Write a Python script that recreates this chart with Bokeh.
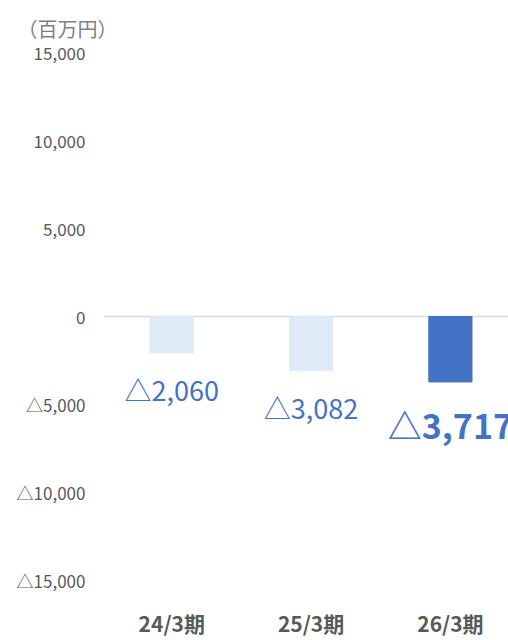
from bokeh.plotting import figure
from bokeh.models import Range1d, FixedTicker, ColumnDataSource, Title
from bokeh.core.properties import value
from bokeh.embed import file_html
from bokeh.resources import INLINE

categories = ["24/3期", "25/3期", "26/3期"]
values = [-2060, -3082, -3717]
y_ticks = [-15000, -10000, -5000, 0, 5000, 10000, 15000]
y_tick_labels = ["△15,000", "△10,000", "△5,000", "0", "5,000", "10,000", "15,000"]
unit_label = "（百万円）"

FONT = "Noto Sans CJK JP"
GRAY = "#595959"
LIGHT = "#DEEAF6"
DARK = "#4472C4"

xs = list(range(len(categories)))
labels = ["△{:,}".format(abs(v)) if v < 0 else "{:,}".format(v) for v in values]
colors = [LIGHT] * (len(values) - 1) + [DARK]

p = figure(frame_width=405, frame_height=528, output_backend="svg", toolbar_location=None,
           x_range=Range1d(-0.49, 2.417), y_range=Range1d(-15000, 15000),
           min_border_left=103, min_border_right=0, min_border_top=52,
           min_border_bottom=60)
p.outline_line_color = None
p.background_fill_color = "white"
p.border_fill_color = "white"

t = Title(text=unit_label, align="left", offset=-86, standoff=20,
          text_font=FONT, text_font_size="20px", text_color="#7f7f7f",
          text_font_style="normal")
p.title = t

src = ColumnDataSource(dict(x=xs, top=values, color=colors, label=labels))
p.vbar(x="x", top="top", bottom=0, width=0.31, color="color", source=src)

prev = ColumnDataSource(dict(x=xs[:-1], y=values[:-1], label=labels[:-1]))
last = ColumnDataSource(dict(x=xs[-1:], y=values[-1:], label=labels[-1:]))
p.text(x="x", y="y", text="label", source=prev, text_align="center",
       text_baseline="middle", y_offset=37, text_color=DARK,
       text_font=value(FONT), text_font_size="27px")
p.text(x="x", y="y", text="label", source=last, text_align="center",
       text_baseline="middle", y_offset=43, text_color=DARK,
       text_font=value(FONT), text_font_size="34px", text_font_style="bold")

p.xgrid.visible = False
p.ygrid.ticker = FixedTicker(ticks=[0])
p.ygrid.grid_line_color = "#D9D9D9"
p.ygrid.grid_line_width = 1.5

p.yaxis.ticker = FixedTicker(ticks=y_ticks)
p.yaxis.major_label_overrides = {t_: l for t_, l in zip(y_ticks, y_tick_labels)}
p.yaxis.axis_line_color = None
p.yaxis.major_tick_line_color = None
p.yaxis.minor_tick_line_color = None
p.yaxis.major_tick_out = 0
p.yaxis.major_tick_in = 0
p.yaxis.major_label_standoff = 18
p.yaxis.major_label_text_font = FONT
p.yaxis.major_label_text_font_size = "17px"
p.yaxis.major_label_text_color = GRAY

p.xaxis.ticker = FixedTicker(ticks=xs)
p.xaxis.major_label_overrides = {x: c for x, c in zip(xs, categories)}
p.xaxis.axis_line_color = None
p.xaxis.major_tick_line_color = None
p.xaxis.minor_tick_line_color = None
p.xaxis.major_tick_out = 0
p.xaxis.major_tick_in = 0
p.xaxis.major_label_standoff = 27
p.xaxis.major_label_text_font = FONT
p.xaxis.major_label_text_font_size = "21px"
p.xaxis.major_label_text_font_style = "bold"
p.xaxis.major_label_text_color = GRAY

open("out.html", "w").write(file_html(p, INLINE))
